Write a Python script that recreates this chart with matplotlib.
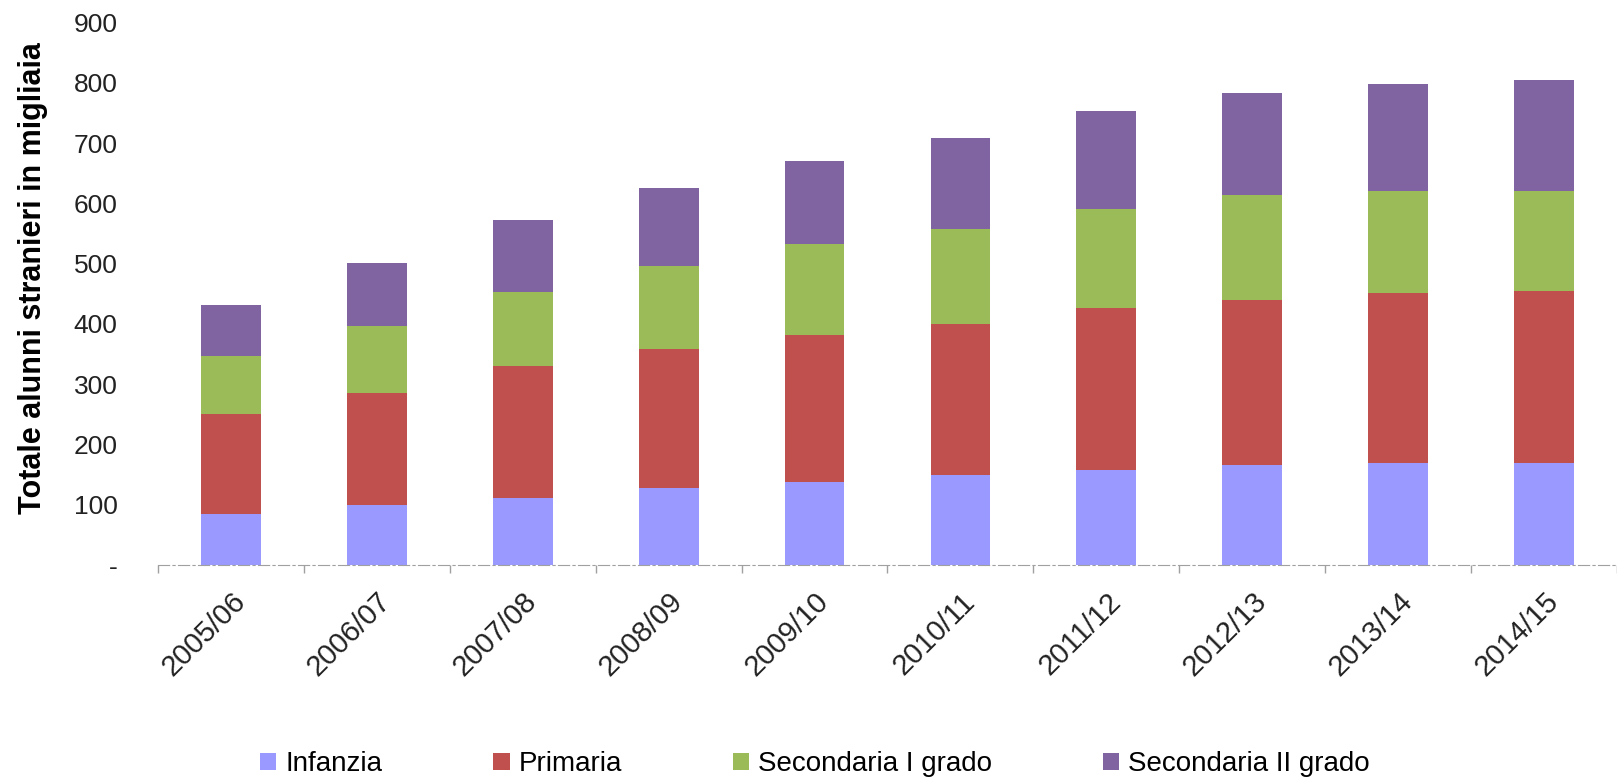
import matplotlib.pyplot as plt
import numpy as np

plt.rcParams['font.family'] = ['Liberation Sans', 'DejaVu Sans']

anni = ['2005/06', '2006/07', '2007/08', '2008/09', '2009/10',
        '2010/11', '2011/12', '2012/13', '2013/14', '2014/15']

# valori in migliaia
infanzia = [85, 99, 111, 128, 137, 149, 157, 166, 169, 169]
primaria = [166, 186, 219, 231, 244, 251, 270, 273, 282, 286]
sec_primo = [96, 112, 123, 138, 151, 157, 164, 175, 170, 166]
sec_secondo = [84, 104, 120, 129, 138, 152, 163, 169, 177, 184]

serie = [('Infanzia', infanzia, '#9999ff'),
         ('Primaria', primaria, '#c0504d'),
         ('Secondaria I grado', sec_primo, '#9bbb59'),
         ('Secondaria II grado', sec_secondo, '#8064a2')]

fig = plt.figure(figsize=(16.17, 7.83), dpi=100)
ax = fig.add_axes([0.0977, 0.2784, 0.9023, 0.6926])

x = np.arange(len(anni))
base = np.zeros(len(anni))
for nome, valori, colore in serie:
    ax.bar(x, valori, width=0.41, bottom=base, color=colore, label=nome)
    base += np.array(valori)

ax.set_ylim(0, 900)
ax.set_xlim(-0.5, 9.45)
ax.set_yticks(range(0, 1000, 100))
ax.set_yticklabels(['-'] + [str(v) for v in range(100, 1000, 100)], fontsize=19, color='#222222')
ax.tick_params(axis='y', length=0, pad=29)

ax.set_xticks(x)
ax.set_xticklabels(anni, fontsize=21, rotation=45, ha='right', rotation_mode='anchor', color='#222222')
ax.tick_params(axis='x', length=0, pad=16)
ax.set_xticks(np.arange(-0.5, 10, 1), minor=True)
ax.tick_params(axis='x', which='minor', length=6, color='#a0a0a0', width=1)

for s in ['top', 'right', 'left']:
    ax.spines[s].set_visible(False)
ax.spines['bottom'].set_color('#a0a0a0')
ax.spines['bottom'].set_linestyle((0, (10, 3, 2, 3)))

ax.set_ylabel('Totale alunni stranieri in migliaia', fontsize=22, fontweight='bold')
ax.yaxis.set_label_coords(-0.0754, 0.529)

fig.legend(loc='center', bbox_to_anchor=(0.504, 0.024), ncol=4, frameon=False,
           fontsize=20, handlelength=0.58, handleheight=0.6, handletextpad=0.32,
           columnspacing=4.0, borderpad=0)

fig.savefig('out.png', dpi=100)
